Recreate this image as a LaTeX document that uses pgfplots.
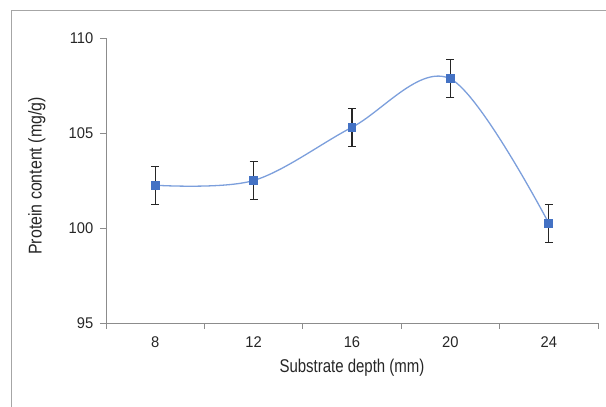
\documentclass[border=0pt]{standalone}
\usepackage{pgfplots}
\pgfplotsset{compat=1.18}
\usepackage{fontspec}
\setmainfont{Liberation Sans}
\definecolor{mkblue}{HTML}{4472C4}
\definecolor{lnblue}{HTML}{7C9FDC}
\definecolor{axgray}{HTML}{8C8C8C}
\definecolor{bdgray}{HTML}{A6A6A6}
\begin{document}
\begin{tikzpicture}
\begin{axis}[
  at={(106pt,84pt)}, anchor=south west,
  scale only axis, width=492pt, height=285pt,
  xmin=-0.5, xmax=4.5, ymin=95, ymax=110,
  axis x line*=bottom, axis y line*=left,
  tick pos=left,
  axis line style={axgray, line width=0.9pt},
  tick style={axgray, line width=0.9pt},
  tick align=outside, major tick length=6pt,
  xtick={-0.5,0.5,1.5,2.5,3.5,4.5},
  x tick label as interval,
  xticklabels={8,12,16,20,24},
  ytick={95,100,105,110},
  /pgf/number format/assume math mode=true,
  ticklabel style={font=\fontsize{15.5}{18}\selectfont, text=black!85, xscale=0.95},
  xticklabel style={yshift=-4pt},
  yticklabel style={xshift=-3.5pt},
  xlabel={Substrate depth (mm)},
  ylabel={Protein content (mg/g)},
  every axis x label/.style={at={(axis description cs:0.5,-0.156)}, anchor=center, font=\fontsize{18.5}{22}\selectfont, text=black!85, xscale=0.81},
  every axis y label/.style={at={(axis description cs:-0.1404,0.516)}, anchor=center, rotate=90, xscale=0.86, font=\fontsize{18.5}{22}\selectfont, text=black!85},
  clip=false,
]
\addplot[lnblue, line width=1.3pt, smooth, tension=0.55,
  mark=square*, mark size=3.9pt, mark options={fill=mkblue, draw=mkblue, line width=0pt},
  error bars/.cd, y dir=both, y explicit,
  error bar style={black!85, line width=1.1pt},
  error mark options={rotate=90, black!85, mark size=4pt, line width=1.1pt}]
  table[x=x, y=y, y error=e] {
  x y e
  0 102.25 1.0
  1 102.50 1.0
  2 105.30 1.0
  3 107.85 1.0
  4 100.25 1.0
  };
\end{axis}
\draw[bdgray, line width=1pt] (11pt,-5pt) -- (11pt,396pt) -- (615pt,396pt);
\pgfresetboundingbox
\path[use as bounding box] (0,0) rectangle (606pt,407pt);
\end{tikzpicture}
\end{document}
